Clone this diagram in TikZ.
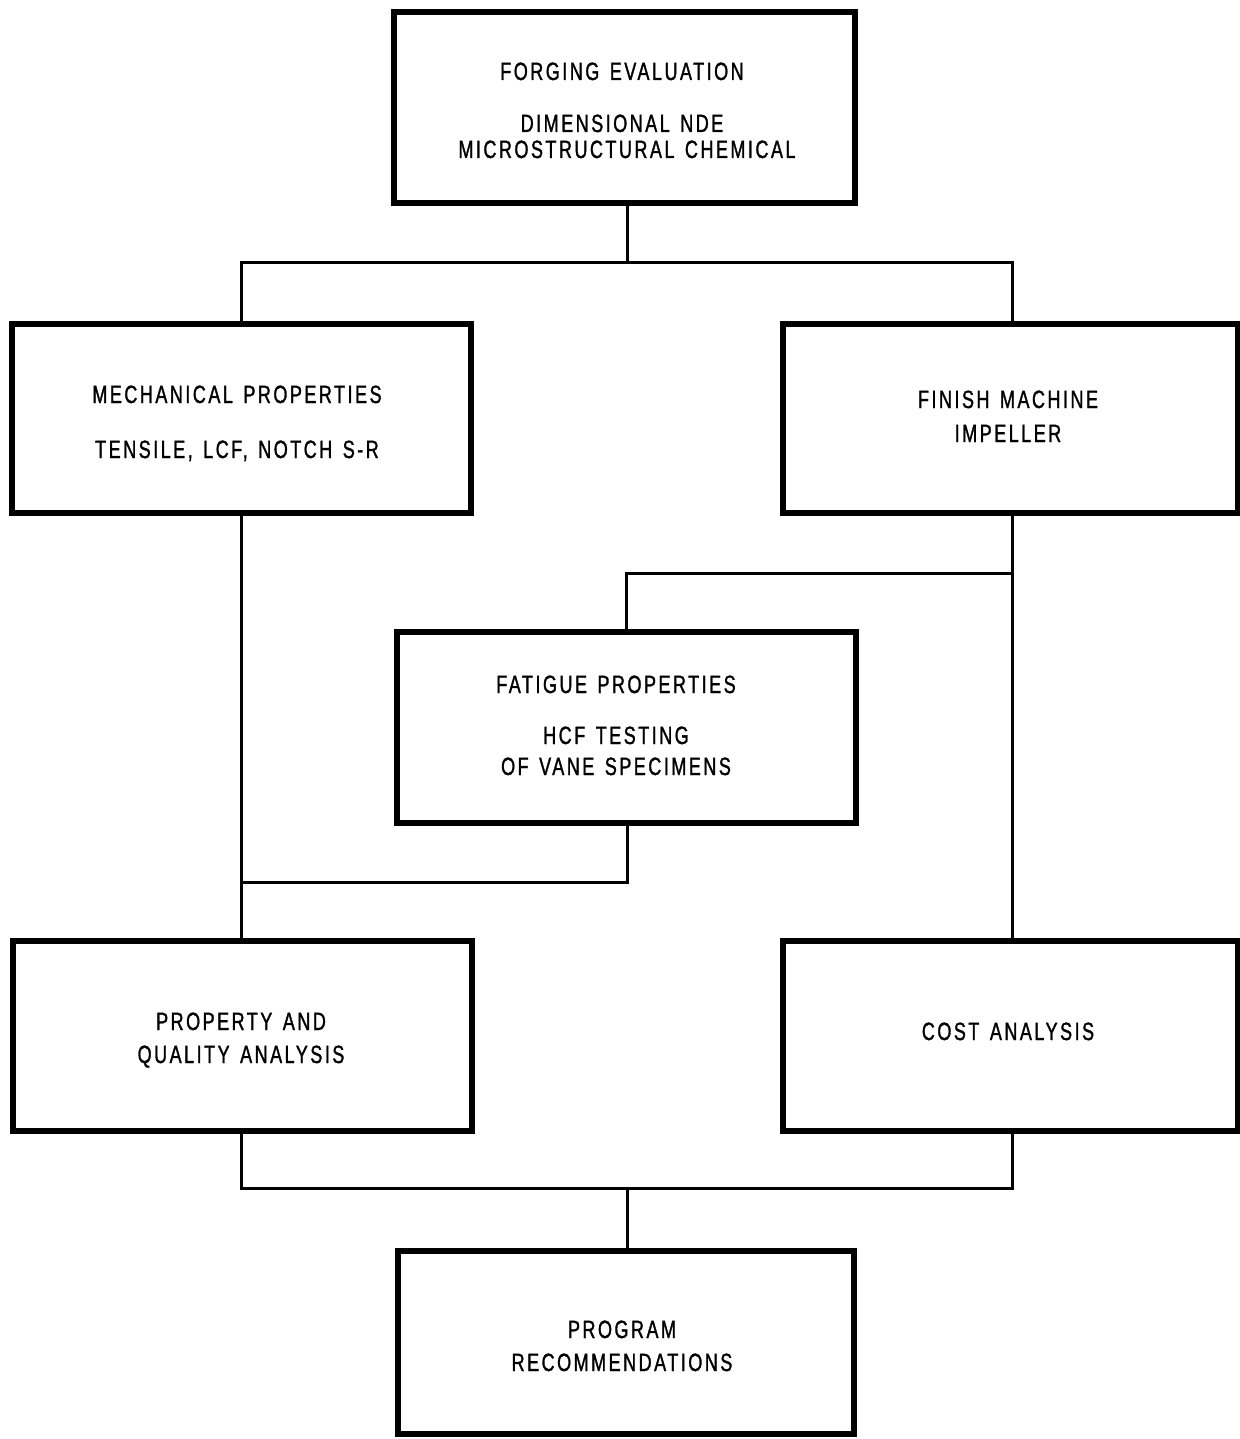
\documentclass[tikz,border=0pt]{standalone}
\usepackage{fontspec}
\setmainfont{Liberation Sans}[FakeStretch=0.72,LetterSpace=10,FakeBold=1.2,WordSpace=1.4]
\begin{document}
\begin{tikzpicture}[x=0.5pt,y=-0.5pt,
  box/.style={draw=black,line width=2.6pt,inner sep=0pt,fill=none},
  conn/.style={draw=black,line width=1.5pt},
  lbl/.style={inner sep=0pt,text height=9pt,text depth=0pt,font=\fontsize{12.5}{15}\selectfont},
]
\path[use as bounding box,fill=white] (0,0) rectangle (1240,1439);
% boxes
\node[box,minimum width=230.5pt,minimum height=95.5pt] (forging) at (624.5,107.5) {};
\node[box,minimum width=229.5pt,minimum height=94.5pt] (mech) at (241.5,418.5) {};
\node[box,minimum width=227.5pt,minimum height=94.5pt] (finish) at (1010.5,418.5) {};
\node[box,minimum width=229.5pt,minimum height=95.5pt] (fatigue) at (626.5,727.5) {};
\node[box,minimum width=229.5pt,minimum height=95pt] (prop) at (242.5,1036) {};
\node[box,minimum width=227.5pt,minimum height=95pt] (cost) at (1010.5,1036) {};
\node[box,minimum width=228pt,minimum height=91.5pt] (prog) at (626,1342.5) {};
% texts
\node[lbl] (t1) at (622,71) {FORGING EVALUATION};
\node[lbl] (t2) at (622,123) {DIMENSIONAL NDE};
\node[lbl] (t3) at (627,149) {MICROSTRUCTURAL CHEMICAL};
\node[lbl] (t4) at (237,394) {MECHANICAL PROPERTIES};
\node[lbl] (t5) at (237,449) {TENSILE, LCF, NOTCH S-R};
\node[lbl] (t6) at (1008,399) {FINISH MACHINE};
\node[lbl] (t7) at (1008,433) {IMPELLER};
\node[lbl] (t8) at (616,684) {FATIGUE PROPERTIES};
\node[lbl] (t9) at (616,735) {HCF TESTING};
\node[lbl] (t10) at (616,766) {OF VANE SPECIMENS};
\node[lbl] (t11) at (241,1021) {PROPERTY AND};
\node[lbl] (t12) at (241,1054) {QUALITY ANALYSIS};
\node[lbl] (t13) at (1008,1031) {COST ANALYSIS};
\node[lbl] (t14) at (622,1329) {PROGRAM};
\node[lbl] (t15) at (622,1362) {RECOMMENDATIONS};
% junction coordinates
\coordinate (jc) at (627,262);
\coordinate (jl) at (241,262);
\coordinate (jr) at (1012,262);
\coordinate (br) at (1012,573);
\coordinate (bl) at (626,573);
\coordinate (fr) at (627,882);
\coordinate (fl) at (241,882);
\coordinate (ql) at (241,1188);
\coordinate (qr) at (1012,1188);
\coordinate (qc) at (627,1188);
% connectors
\draw[conn] (forging.south -| jc) -- (jc);
\draw[conn] (mech.north -| jl) -- (jl) -- (jr) -- (finish.north -| jr);
\draw[conn] (mech.south -| jl) -- (prop.north -| jl);
\draw[conn] (finish.south -| jr) -- (cost.north -| jr);
\draw[conn] (br) -- (bl) -- (fatigue.north -| bl);
\draw[conn] (fatigue.south -| fr) -- (fr) -- (fl);
\draw[conn] (prop.south -| ql) -- (ql) -- (qr) -- (cost.south -| qr);
\draw[conn] (qc) -- (prog.north -| qc);
\end{tikzpicture}
\end{document}
